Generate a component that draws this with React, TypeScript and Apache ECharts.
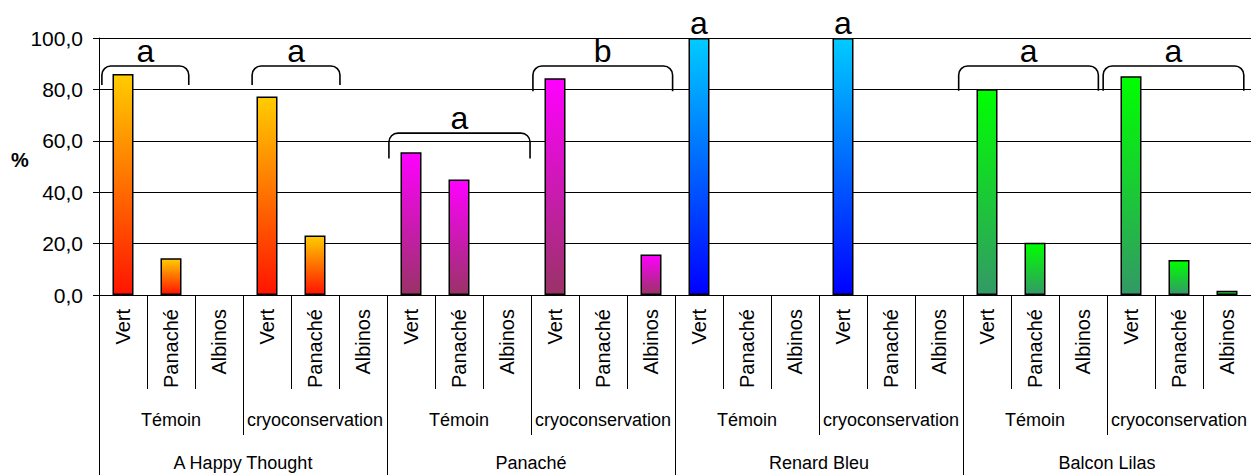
import React, { useEffect, useRef } from "react";
import * as echarts from "echarts";

// ---- data ----
const cultivars = ["A Happy Thought", "Panaché", "Renard Bleu", "Balcon Lilas"];
const treatments = ["Témoin", "cryoconservation"];
const phenotypes = ["Vert", "Panaché", "Albinos"];

// % per cultivar: Témoin (Vert, Panaché, Albinos), cryoconservation (Vert, Panaché, Albinos)
const valuesHappyThought = [86.0, 14.3, 0, 77.2, 23.2, 0];
const valuesPanache = [55.5, 44.9, 0, 84.3, 0, 15.8];
const valuesRenardBleu = [100, 0, 0, 100, 0, 0];
const valuesBalconLilas = [80.1, 20.3, 0, 85.1, 13.6, 1.7];
const cultivarValues = [valuesHappyThought, valuesPanache, valuesRenardBleu, valuesBalconLilas];

const yTickMin = 0;
const yTickMax = 100;
const yTickStep = 20;

// significance annotations (category index span, value levels)
const bracketGroups = [
  { label: "a", from: -0.44, to: 1.37, top: 89.1, bottom: 81.7 },
  { label: "a", from: 2.69, to: 4.52, top: 89.1, bottom: 81.7 },
  { label: "a", from: 5.54, to: 8.48, top: 63.0, bottom: 53.1 },
  { label: "b", from: 8.54, to: 11.45, top: 89.1, bottom: 79.3 },
  { label: "a", from: 17.41, to: 20.32, top: 89.1, bottom: 79.5 },
  { label: "a", from: 20.42, to: 23.35, top: 89.1, bottom: 79.5 },
];
const barLetters = [
  { label: "a", at: 12, value: 100 },
  { label: "a", at: 15, value: 100 },
];

// ---- styles ----
const gradientStops = [
  ["#FFCC00", "#FF1400"],
  ["#FF00FF", "#993366"],
  ["#00CCFF", "#0000FF"],
  ["#00FF00", "#339966"],
];
const FONT = "'Liberation Sans', Arial, Helvetica, sans-serif";

let registered = false;
function registerBracket() {
  if (registered) return;
  registered = true;
  const Bracket = (echarts.graphic as any).extendShape({
    shape: { x1: 0, x2: 0, top: 0, bottom: 0, r: 9 },
    buildPath(ctx: any, s: any) {
      const k = 0.552;
      const r = s.r;
      ctx.moveTo(s.x1, s.bottom);
      ctx.lineTo(s.x1, s.top + r);
      ctx.bezierCurveTo(s.x1, s.top + r * (1 - k), s.x1 + r * (1 - k), s.top, s.x1 + r, s.top);
      ctx.lineTo(s.x2 - r, s.top);
      ctx.bezierCurveTo(s.x2 - r * (1 - k), s.top, s.x2, s.top + r * (1 - k), s.x2, s.top + r);
      ctx.lineTo(s.x2, s.bottom);
    },
  });
  (echarts.graphic as any).registerShape("bracket", Bracket);
}

export default function App() {
  const ref = useRef<HTMLDivElement>(null);

  useEffect(() => {
    if (!ref.current) return;
    registerBracket();
    const chart = echarts.init(ref.current, undefined, { renderer: "svg" });

    const leafLabels: string[] = [];
    const treatmentLabels: string[] = [];
    cultivars.forEach(() => {
      treatments.forEach((t) => {
        treatmentLabels.push(t);
        phenotypes.forEach((p) => leafLabels.push(p));
      });
    });

    const black = "#000";
    const barData: any[] = [];
    cultivarValues.forEach((vals, ci) => {
      vals.forEach((v) => {
        barData.push({
          value: v,
          itemStyle: {
            borderColor: black,
            borderWidth: v > 0 ? 1.5 : 0,
            color: new echarts.graphic.LinearGradient(0, 0, 0, 1, [
              { offset: 0, color: gradientStops[ci][0] },
              { offset: 1, color: gradientStops[ci][1] },
            ]),
          },
        });
      });
    });

    chart.setOption({
      animation: false,
      grid: { left: 99, top: 38, width: 1157, height: 257, containLabel: false },
      xAxis: [
        {
          type: "category",
          data: leafLabels,
          position: "bottom",
          axisLine: { show: true, lineStyle: { color: black, width: 1 } },
          axisTick: { show: true, length: 94, interval: 0, lineStyle: { color: black } },
          axisLabel: {
            interval: 0,
            rotate: 90,
            margin: 14,
            fontSize: 20,
            fontFamily: FONT,
            color: black,
          },
        },
        {
          type: "category",
          data: treatmentLabels,
          position: "bottom",
          axisLine: { show: false },
          axisTick: { show: true, length: 140, interval: 0, lineStyle: { color: black } },
          axisLabel: { interval: 0, margin: 116, fontSize: 18, fontFamily: FONT, color: black },
        },
        {
          type: "category",
          data: cultivars,
          position: "bottom",
          axisLine: { show: false },
          axisTick: { show: true, length: 190, interval: 0, lineStyle: { color: black } },
          axisLabel: { interval: 0, margin: 159, fontSize: 18, fontFamily: FONT, color: black },
        },
      ],
      yAxis: {
        type: "value",
        min: yTickMin,
        max: yTickMax,
        interval: yTickStep,
        axisLine: { show: true, lineStyle: { color: black } },
        axisTick: { show: true, length: 6, lineStyle: { color: black } },
        splitLine: { show: true, lineStyle: { color: black, width: 1 } },
        axisLabel: {
          margin: 16,
          fontSize: 21,
          fontFamily: FONT,
          color: black,
          formatter: (v: number) => v.toFixed(1).replace(".", ","),
        },
      },
      series: [
        {
          type: "bar",
          xAxisIndex: 0,
          yAxisIndex: 0,
          barWidth: 21,
          data: barData,
        },
      ],
    });

    // annotation graphics positioned through the axes
    const p0 = chart.convertToPixel({ xAxisIndex: 0 }, 0) as number;
    const p1 = chart.convertToPixel({ xAxisIndex: 0 }, 1) as number;
    const xOf = (i: number) => p0 + (p1 - p0) * i;
    const yOf = (v: number) => chart.convertToPixel({ yAxisIndex: 0 }, v) as number;

    const graphics: any[] = [];
    bracketGroups.forEach((b) => {
      const x1 = xOf(b.from);
      const x2 = xOf(b.to);
      const top = yOf(b.top);
      const bottom = yOf(b.bottom);
      graphics.push({
        type: "bracket",
        silent: true,
        shape: { x1, x2, top, bottom, r: 9 },
        style: { stroke: black, fill: "none", lineWidth: 1.6 },
      });
      graphics.push({
        type: "text",
        silent: true,
        x: (x1 + x2) / 2,
        y: top - 15,
        style: {
          text: b.label,
          fontSize: 32,
          fontFamily: FONT,
          fill: black,
          align: "center",
          verticalAlign: "middle",
        },
      });
    });
    barLetters.forEach((l) => {
      graphics.push({
        type: "text",
        silent: true,
        x: xOf(l.at),
        y: yOf(l.value) - 15,
        style: {
          text: l.label,
          fontSize: 32,
          fontFamily: FONT,
          fill: black,
          align: "center",
          verticalAlign: "middle",
        },
      });
    });
    graphics.push({
      type: "text",
      silent: true,
      x: 20,
      y: 160,
      style: {
        text: "%",
        fontSize: 20,
        fontWeight: "bold",
        fontFamily: FONT,
        fill: black,
        align: "center",
        verticalAlign: "middle",
      },
    });
    chart.setOption({ graphic: graphics });

    return () => chart.dispose();
  }, []);

  return (
    <div
      ref={ref}
      style={{ position: "fixed", left: 0, top: 0, width: 1251, height: 475, background: "#fff" }}
    />
  );
}
